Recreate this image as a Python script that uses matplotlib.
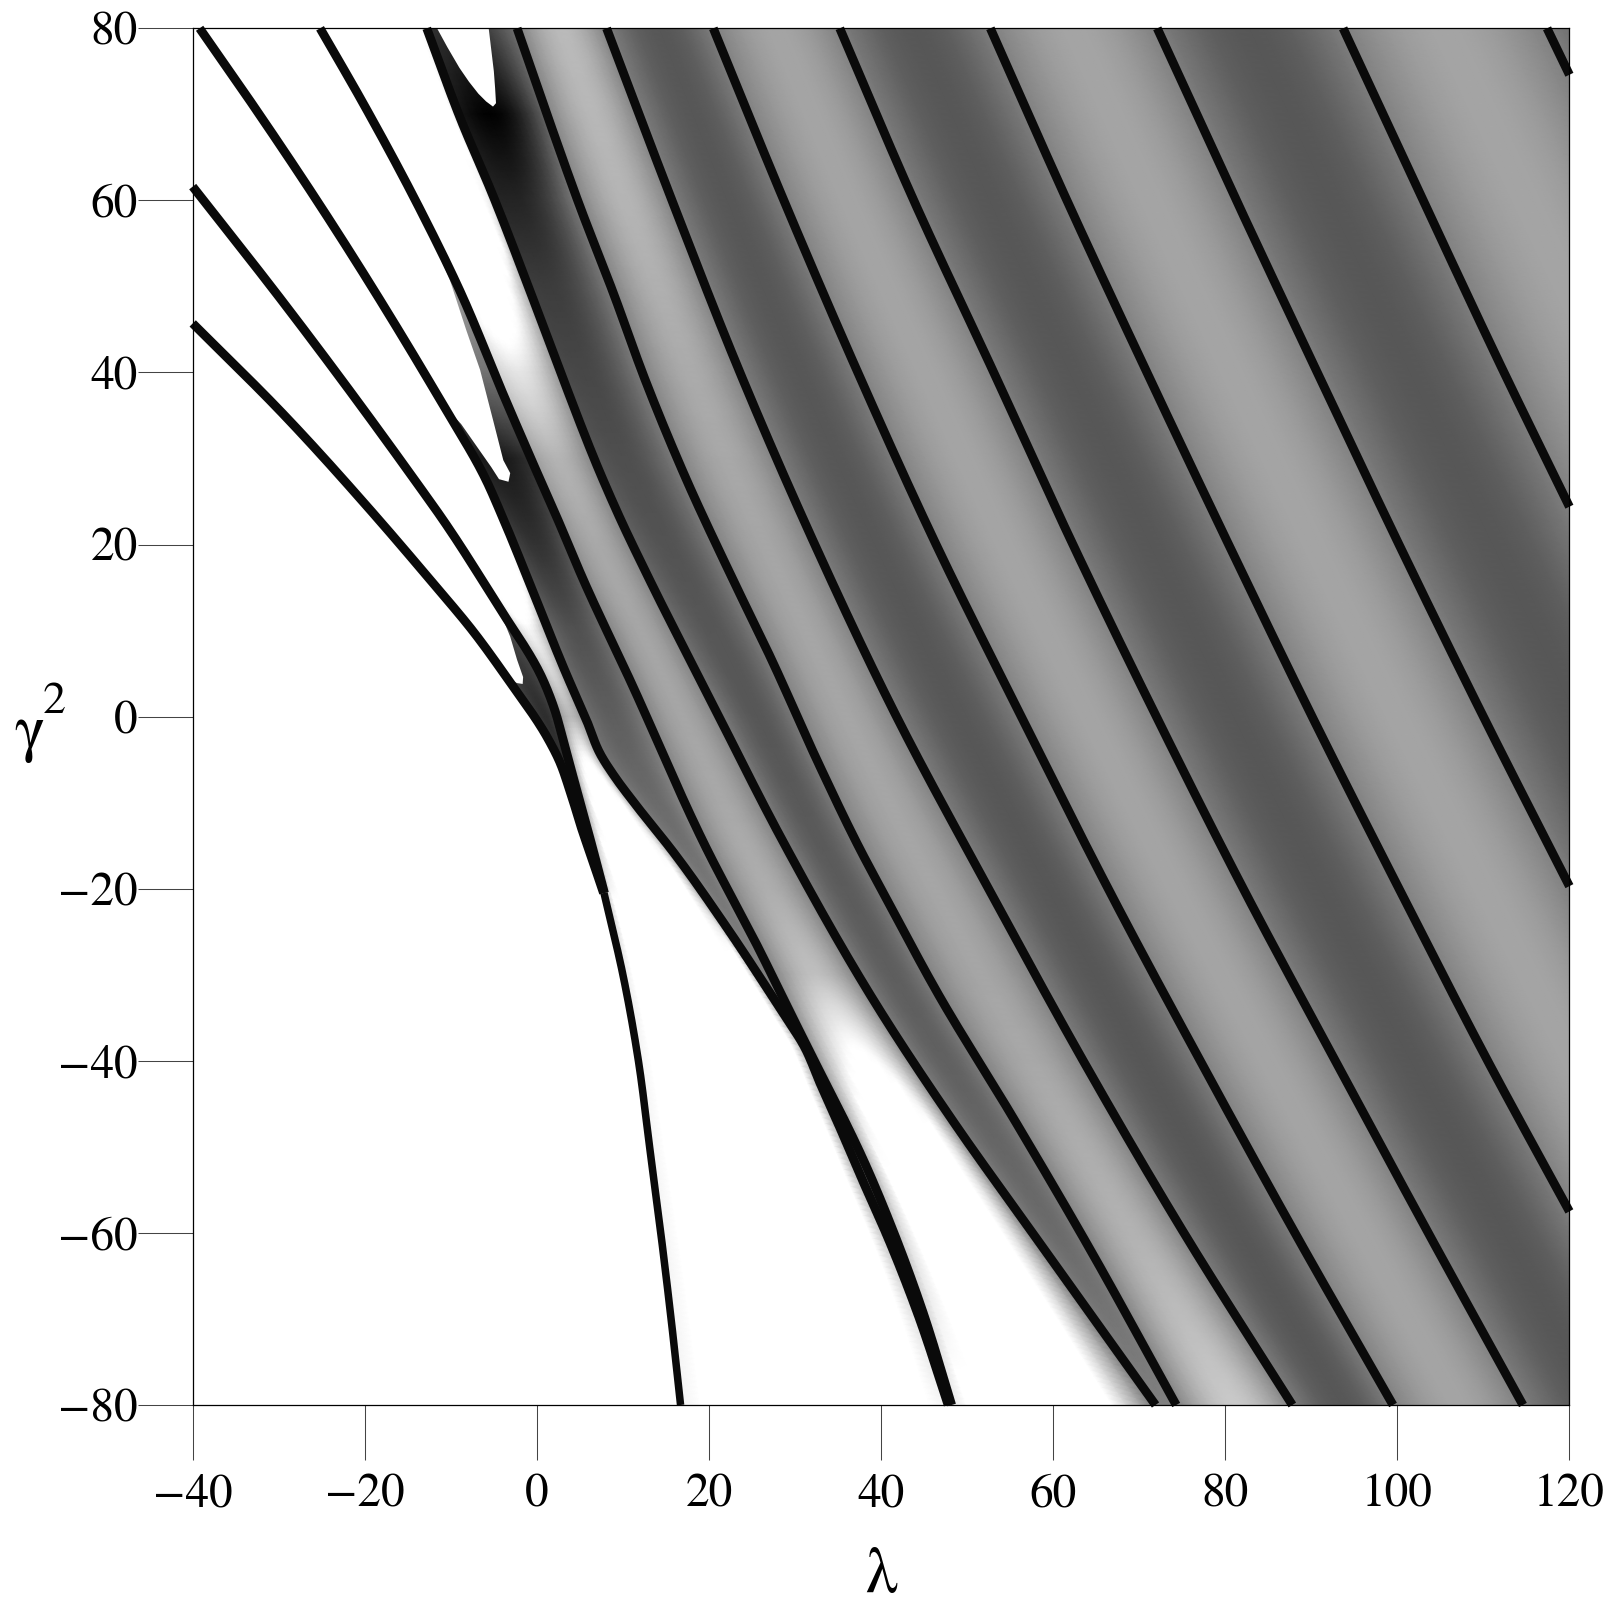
import numpy as np
import matplotlib

matplotlib.use("Agg")

import matplotlib.pyplot as plt

# black boundary curves as (lambda, gamma^2)
t_x = [-40.0, -29.9, -19.0, -12.4, -7.4, -3.4, 1.2, 2.5, 3.9, 5.2, 6.4, 7.75]
t_y = [45.7, 35.6, 23.6, 15.9, 9.9, 4.4, -2.4, -4.9, -8.8, -13.0, -16.5, -20.5]
s_x = [-40.0, -29.9, -14.2, -11.0, -4.7, 0.7, 2.0, 3.0, 3.8, 4.9, 6.4, 7.85]
s_y = [61.6, 48.7, 27.5, 23.0, 13.2, 4.3, 1.0, -2.5, -5.5, -9.5, -15.0, -20.5]
thin_x = [7.8, 10.0, 11.8, 13.1, 14.4, 15.6, 16.7]
thin_y = [-20.5, -30.0, -40.0, -50.0, -60.0, -70.0, -80.0]
r_x = [-39.2, -33.7, -24.8, -14.2, -11.0, -5.9, -4.0, -1.0, 3.4, 5.8, 7.4, 9.2, 11.3, 15.9, 22.0, 28.7, 31.0, 33.0, 35.1, 37.9, 40.9, 44.3, 47.8]
r_y = [80.0, 72.1, 58.8, 41.8, 36.4, 27.5, 23.2, 15.9, 5.0, -0.5, -4.4, -7.2, -10.0, -15.8, -24.4, -34.6, -38.2, -42.8, -47.5, -54.0, -60.8, -69.5, -80.0]
p_x = [-25.2, -20.2, -13.6, -9.0, -3.8, 0.4, 2.3, 5.4, 10.8, 19.8, 25.6, 30.0, 32.5, 35.3, 37.8, 41.3, 44.9, 48.2]
p_y = [80.0, 71.3, 59.0, 49.6, 37.2, 27.5, 23.2, 15.9, 4.3, -15.5, -26.6, -35.5, -40.5, -46.0, -51.2, -59.5, -69.3, -80.0]
q_x = [-12.8, -8.8, -5.2, -1.0, 2.5, 7.7, 9.6, 13.1, 20.0, 28.6, 39.9, 48.7, 57.6, 71.9]
q_y = [80.0, 69.3, 60.8, 50.0, 40.7, 27.5, 23.2, 15.9, 2.3, -14.5, -34.2, -47.5, -60.0, -80.0]
ch_x = [-2.3, 1.1, 5.0, 8.9, 12.6, 17.4, 22.8, 27.1, 32.9, 37.6, 40.7, 46.5, 55.4, 64.0, 74.3]
ch_y = [80.0, 70.2, 59.3, 49.2, 39.1, 27.5, 15.9, 7.0, -5.8, -15.5, -21.3, -32.0, -46.7, -61.4, -80.0]
cg_x = [8.1, 15.7, 23.6, 32.3, 41.8, 52.5, 63.5, 75.2, 87.8]
cf_x = [20.5, 28.7, 37.3, 46.4, 56.3, 66.4, 77.1, 88.1, 99.5]
ce_x = [35.2, 43.8, 53.1, 62.3, 72.0, 82.1, 92.8, 103.6, 114.6]
full_y = [80.0, 60.0, 40.0, 20.0, 0.0, -20.0, -40.0, -60.0, -80.0]
cd_x = [52.7, 61.6, 70.9, 80.4, 90.1, 100.2, 110.5, 120.0]
cd_y = [80.0, 60.0, 40.0, 20.0, 0.0, -20.0, -40.0, -57.5]
cc_x = [72.1, 81.3, 90.7, 100.2, 110.0, 120.0]
cc_y = [80.0, 60.0, 40.0, 20.0, 0.0, -19.7]
cb_x = [93.7, 103.0, 112.4, 120.0]
cb_y = [80.0, 60.0, 40.0, 24.4]
ca_x = [117.4, 120.0]
ca_y = [80.0, 74.6]

# white lens tips that cut into the shaded bands
lens1_x = [-11.6, -10.4, -9.0, -7.9, -6.8, -5.9, -5.1, -4.75, -4.85, -5.0, -5.3, -5.6]
lens1_y = [80.0, 77.8, 75.4, 73.8, 72.4, 71.5, 70.9, 71.3, 73.0, 75.0, 77.5, 80.0]
lens2_x = [-25.2, -20.2, -13.6, -10.1, -8.2, -6.6, -5.1, -3.9, -3.1, -3.3, -4.4, -5.3, -6.7, -8.8, -11.0, -14.2, -24.8, -33.7, -39.2]
lens2_y = [80.0, 71.3, 59.0, 50.7, 44.9, 40.3, 34.5, 29.8, 28.3, 27.3, 27.6, 29.0, 31.0, 34.0, 36.4, 41.8, 58.8, 72.1, 80.0]
lens3_x = [-40.0, -29.9, -14.2, -11.0, -4.7, -3.1, -2.3, -1.6, -1.65, -2.3, -3.4, -7.4, -12.4, -19.0, -29.9, -40.0]
lens3_y = [61.6, 48.7, 27.5, 23.0, 13.2, 9.3, 6.6, 4.6, 3.8, 3.9, 4.4, 9.9, 15.9, 23.6, 35.6, 45.7]

# grey level read at the middle of each band and next to its two curves
shade_y = [80, 70, 60, 50, 40, 30, 20, 10, 0, -10, -20, -30, -40, -50, -60, -70, -80]
band_ts_mid = [0.4, 0.4, 0.4, 0.4, 0.4, 0.4, 0.4, 0.25, 0.18, 0.2, 0.2, 0.2, 0.2, 0.2, 0.2, 0.2, 0.2]
band_ts_left = [0.3] * 17
band_ts_right = [0.3] * 17
band_sr_mid = [2, 2, 2, 2, 2, 2, 1.6, 0.95, 0.72, 1.3, 1.8, 3, 5, 5, 5, 5, 5]
band_sr_left = [1, 1, 1, 1, 1, 1, 1, 0.75, 0.5, 0.5, 0.7, 0.9, 0.95, 0.95, 0.95, 0.95, 0.95]
band_sr_right = [1, 1, 1, 1, 1, 1, 0.9, 0.6, 0.5, 0.5, 0.5, 0.55, 0.6, 0.6, 0.7, 0.85, 0.95]
band_rp_mid = [0.65, 0.65, 0.65, 0.65, 0.42, 0.1, 0.2, 0.32, 0.37, 0.42, 0.47, 0.5, 0.5, 0.5, 0.5, 0.5, 0.5]
band_rp_left = [0.3, 0.3, 0.3, 0.3, 0.3, 0.12, 0.28, 0.42, 0.45, 0.5, 0.55, 0.55, 0.55, 0.55, 0.55, 0.55, 0.55]
band_rp_right = [0.6, 0.6, 0.6, 0.6, 0.45, 0.2, 0.35, 0.45, 0.5, 0.55, 0.55, 0.55, 0.55, 0.55, 0.55, 0.55, 0.55]
band_pq_mid = [2, 2, 2, 1.2, 0.88, 0.7, 0.66, 0.65, 0.65, 0.66, 0.68, 0.75, 1.05, 1.45, 1.45, 1.4, 1.4]
band_pq_left = [1, 1, 1, 1, 0.8, 0.6, 0.55, 0.5, 0.5, 0.5, 0.5, 0.5, 0.55, 0.6, 0.7, 0.8, 0.9]
band_pq_right = [1, 0.8, 0.65, 0.6, 0.55, 0.5, 0.5, 0.5, 0.5, 0.5, 0.5, 0.5, 0.5, 0.45, 0.45, 0.45, 0.45]
band_qh_mid = [0.2, 0.03, 0.19, 0.27, 0.3, 0.32, 0.33, 0.34, 0.34, 0.35, 0.36, 0.37, 0.38, 0.4, 0.42, 0.46, 0.5]
band_qh_left = [0.2, 0.1, 0.15, 0.25, 0.3, 0.35, 0.4, 0.45, 0.5, 0.5, 0.5, 0.5, 0.5, 0.5, 0.5, 0.5, 0.5]
band_qh_right = [0.45, 0.42, 0.5, 0.5, 0.5, 0.5, 0.5, 0.5, 0.5, 0.5, 0.5, 0.5, 0.5, 0.5, 0.5, 0.5, 0.5]
band_hg_mid = [0.73, 0.72, 0.71, 0.69, 0.67, 0.66, 0.65, 0.65, 0.65, 0.65, 0.65, 0.65, 0.66, 0.68, 0.7, 0.74, 0.79]
dark_mid = 0.34
light_mid = 0.645
edge_grey = 0.5

x_ticks = [-40, -20, 0, 20, 40, 60, 80, 100, 120]
x_tick_labels = ["\u221240", "\u221220", "0", "20", "40", "60", "80", "100", "120"]
y_ticks = [-80, -60, -40, -20, 0, 20, 40, 60, 80]
y_tick_labels = ["\u221280", "\u221260", "\u221240", "\u221220", "0", "20", "40", "60", "80"]

WIDTH = 1618
HEIGHT = 1623
LINE_COLOR = "#0a0a0a"


def curve_at(xs, ys, rows):
    """Lambda of a curve at the given rows: smooth through the read points, straight past its ends."""
    x = np.asarray(xs, dtype=float)[::-1]
    y = np.asarray(ys, dtype=float)[::-1]
    h = np.diff(y)
    d = np.diff(x) / h
    m = np.empty_like(x)
    m[0] = d[0]
    m[-1] = d[-1]
    if len(x) > 2:
        m[1:-1] = (h[1:] * d[:-1] + h[:-1] * d[1:]) / (h[:-1] + h[1:])

    idx = np.clip(np.searchsorted(y, rows) - 1, 0, len(h) - 1)
    t = (rows - y[idx]) / h[idx]
    out = ((2 * t**3 - 3 * t**2 + 1) * x[idx] + (t**3 - 2 * t**2 + t) * h[idx] * m[idx]
           + (-2 * t**3 + 3 * t**2) * x[idx + 1] + (t**3 - t**2) * h[idx] * m[idx + 1])
    above = rows > y[-1]
    below = rows < y[0]
    out[above] = x[-1] + (rows[above] - y[-1]) * m[-1]
    out[below] = x[0] + (rows[below] - y[0]) * m[0]
    return out


def draw_curve(ax, xs, ys, lw):
    rows = np.linspace(ys[0], ys[-1], 300)
    ax.plot(curve_at(xs, ys, rows), rows, color=LINE_COLOR, lw=lw, solid_capstyle="butt",
            solid_joinstyle="round", clip_on=False, zorder=3)


def draw_shading(ax):
    rows = np.linspace(80.0, -80.0, 241)
    shade_rows = np.array(shade_y, dtype=float)

    def level(values):
        if np.isscalar(values):
            return np.full_like(rows, values)
        return np.interp(rows, shade_rows[::-1], np.asarray(values, dtype=float)[::-1])

    edges = [
        curve_at(list(t_x) + thin_x[1:], list(t_y) + thin_y[1:], rows),
        curve_at(list(s_x) + thin_x[1:], list(s_y) + thin_y[1:], rows),
        curve_at(r_x, r_y, rows),
        curve_at(p_x, p_y, rows),
        curve_at(q_x, q_y, rows),
        curve_at(ch_x, ch_y, rows),
        curve_at(cg_x, full_y, rows),
        curve_at(cf_x, full_y, rows),
        curve_at(ce_x, full_y, rows),
        curve_at(cd_x, cd_y, rows),
        curve_at(cc_x, cc_y, rows),
        curve_at(cb_x, cb_y, rows),
        curve_at(ca_x, ca_y, rows),
    ]
    edges.append(edges[-1] + 24.0)

    bands = [
        (band_ts_mid, band_ts_left, band_ts_right),
        (band_sr_mid, band_sr_left, band_sr_right),
        (band_rp_mid, band_rp_left, band_rp_right),
        (band_pq_mid, band_pq_left, band_pq_right),
        (band_qh_mid, band_qh_left, band_qh_right),
        (band_hg_mid, edge_grey, edge_grey),
        (dark_mid, edge_grey, edge_grey),
        (light_mid, edge_grey, edge_grey),
        (dark_mid, edge_grey, edge_grey),
        (light_mid, edge_grey, edge_grey),
        (dark_mid, edge_grey, edge_grey),
        (light_mid, edge_grey, edge_grey),
        (dark_mid, edge_grey, edge_grey),
    ]

    fractions = np.linspace(0.0, 1.0, 15)
    xs = []
    cs = []
    for k, (mid, left, right) in enumerate(bands):
        mid_v = level(mid)
        left_v = level(left)
        right_v = level(right)
        for u in fractions:
            xs.append(edges[k] * (1 - u) + edges[k + 1] * u)
            base = left_v * (1 - u) + right_v * u
            cs.append(base + (mid_v - 0.5 * (left_v + right_v)) * np.sin(np.pi * u))

    x_mesh = np.maximum.accumulate(np.array(xs).T, axis=1)
    y_mesh = np.repeat(rows[:, None], x_mesh.shape[1], axis=1)
    ax.pcolormesh(x_mesh, y_mesh, np.clip(np.array(cs).T, 0, 1), shading="gouraud",
                  cmap="gray", vmin=0, vmax=1, zorder=1)

    for lx, ly in ((lens1_x, lens1_y), (lens2_x, lens2_y), (lens3_x, lens3_y)):
        ax.fill(lx, ly, color="white", lw=0, zorder=2)


def main():
    plt.rcParams["font.family"] = ["STIXGeneral", "Liberation Serif"]
    fig = plt.figure(figsize=(WIDTH / 100, HEIGHT / 100), dpi=100)
    ax = fig.add_axes([192.7 / WIDTH, 1 - 1405.0 / HEIGHT, 1376.7 / WIDTH, 1376.7 / HEIGHT])

    draw_shading(ax)

    curves = [
        (t_x, t_y), (s_x, s_y), (r_x, r_y), (p_x, p_y), (q_x, q_y), (ch_x, ch_y),
        (cg_x, full_y), (cf_x, full_y), (ce_x, full_y), (cd_x, cd_y), (cc_x, cc_y),
        (cb_x, cb_y), (ca_x, ca_y),
    ]
    for cx, cy in curves:
        draw_curve(ax, cx, cy, 6.4)
    draw_curve(ax, thin_x, thin_y, 5.4)

    ax.set_xlim(-40, 120)
    ax.set_ylim(-80, 80)
    ax.set_xticks(x_ticks, x_tick_labels)
    ax.set_yticks(y_ticks, y_tick_labels)
    ax.tick_params(axis="both", direction="out", length=39.6, width=0.75, color="#444444",
                   labelsize=34, labelcolor="black")
    ax.tick_params(axis="x", pad=10)
    ax.tick_params(axis="y", pad=0)
    for spine in ax.spines.values():
        spine.set_linewidth(0.9)
        spine.set_zorder(4)

    fig.text(881.5 / WIDTH, 1 - 1592.0 / HEIGHT, "\u03bb", fontsize=46, ha="center", va="baseline")
    fig.text(14.0 / WIDTH, 1 - 749.0 / HEIGHT, "\u03b3", fontsize=46, ha="left", va="baseline")
    fig.text(43.0 / WIDTH, 1 - 713.0 / HEIGHT, "2", fontsize=33, ha="left", va="baseline")

    fig.savefig("out.png", dpi=100)
    plt.close(fig)


if __name__ == "__main__":
    main()
